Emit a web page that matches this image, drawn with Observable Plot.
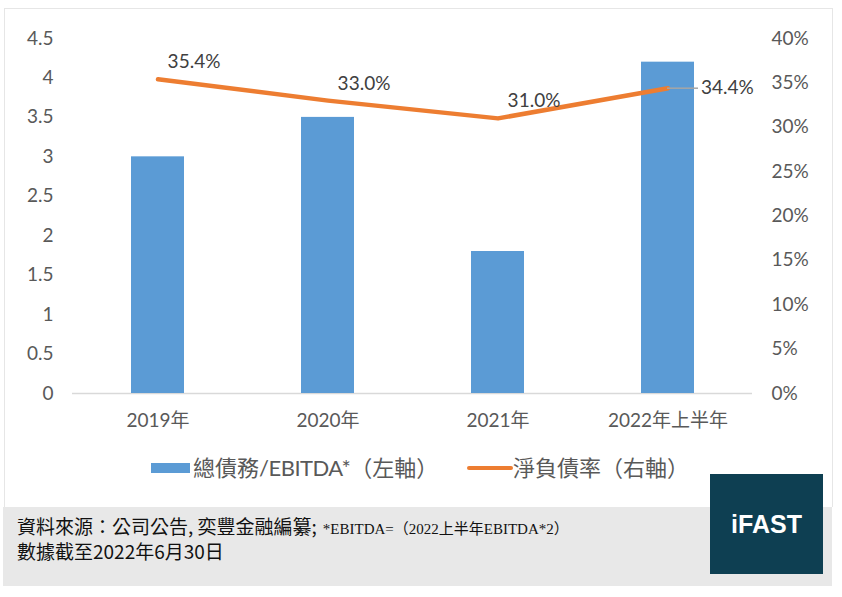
<!DOCTYPE html>
<html>
<head>
<meta charset="utf-8">
<script src="https://cdn.jsdelivr.net/npm/d3@7"></script>
<script src="https://cdn.jsdelivr.net/npm/@observablehq/plot@0.6"></script>
<style>
  html, body { margin: 0; padding: 0; background: #fff; }
  #root { position: relative; width: 842px; height: 597px; overflow: hidden; font-family: Lato, "Noto Sans CJK TC", sans-serif; }
  .panel { position: absolute; left: 4px; top: 8px; width: 827px; height: 498px; border: 1px solid #e6e6e6; border-bottom: none; background: #fff; }
  #chart { position: absolute; left: 0; top: 0; }
  .legend { position: absolute; top: 454px; font-size: 22px; color: #595959; line-height: 28px; white-space: nowrap; }
  .lat { letter-spacing: -0.5px; }
  .sw-bar { position: absolute; left: 151px; top: 463px; width: 39px; height: 10px; background: #5B9BD5; }
  .sw-line { position: absolute; left: 467px; top: 466px; width: 46px; height: 4px; background: #ED7D31; border-radius: 2px; }
  .footer { position: absolute; left: 3px; top: 507px; width: 829px; height: 79px; background: #e8e8e8; }
  .src { position: absolute; left: 17px; top: 515px; white-space: nowrap; font-family: "Noto Sans CJK TC", sans-serif; font-size: 19px; color: #111; line-height: 22px; }
  .small { font-family: "Liberation Serif", "Noto Sans CJK TC", serif; font-size: 15px; margin-left: 6px; }
  .logo { position: absolute; left: 710px; top: 474px; width: 113px; height: 100px; background: #0e3f52; color: #fff; font-family: "Liberation Sans", Arial, sans-serif; font-weight: bold; font-size: 25px; display: flex; align-items: center; justify-content: center; }
</style>
</head>
<body>
<div id="root">
  <div class="panel"></div>
  <div id="chart"></div>
  <div class="sw-bar"></div>
  <div class="legend" style="left:193px;">總債務<span class="lat">/EBITDA*</span>（左軸）</div>
  <div class="sw-line"></div>
  <div class="legend" style="left:513px;">淨負債率（右軸）</div>
  <div class="footer"></div>
  <div class="src">資料來源：公司公告, 奕豐金融編纂;<span class="small">*EBITDA=（2022上半年EBITDA*2）</span><br>數據截至2022年6月30日</div>
  <div class="logo">iFAST</div>
</div>
<script>
const years = ["2019年", "2020年", "2021年", "2022年上半年"];
const debtToEbitda = [3.0, 3.5, 1.8, 4.2];
const netGearing = [35.4, 33.0, 31.0, 34.4];
const leftTicks = [0, 0.5, 1, 1.5, 2, 2.5, 3, 3.5, 4, 4.5];
const rightTicks = [0, 5, 10, 15, 20, 25, 30, 35, 40];
const leftMax = 4.5;
const rightMax = 40;
const k = leftMax / rightMax;

const rows = years.map((year, i) => ({
  year,
  debt: debtToEbitda[i],
  gy: netGearing[i] * k,
  label: netGearing[i].toFixed(1) + "%"
}));

const chart = Plot.plot({
  width: 842,
  height: 445,
  marginTop: 38,
  marginBottom: 52,
  marginLeft: 72,
  marginRight: 90,
  style: {fontFamily: 'Lato, "Noto Sans CJK TC", sans-serif', fontSize: "19px", color: "#595959", background: "transparent", overflow: "visible"},
  x: {type: "band", domain: years, paddingInner: 0.69, paddingOuter: 0.345, label: null},
  y: {domain: [0, leftMax], label: null},
  marks: [
    Plot.axisX({tickSize: 0, tickPadding: 20, label: null, fontSize: 19}),
    Plot.axisY(leftTicks, {tickSize: 0, tickPadding: 19, tickFormat: d => String(d), label: null, fontSize: 19}),
    Plot.axisY(rightTicks.map(p => p * k), {anchor: "right", tickSize: 0, tickPadding: 19, tickFormat: d => Math.round(d / k) + "%", label: null, fontSize: 19}),
    Plot.ruleY([0], {stroke: "#d9d9d9", strokeWidth: 1.5}),
    Plot.barY(rows, {x: "year", y: "debt", fill: "#5B9BD5"}),
    Plot.lineY(rows, {x: "year", y: "gy", stroke: "#ED7D31", strokeWidth: 4.5, strokeLinejoin: "round", strokeLinecap: "round"}),
    Plot.tickY(rows.slice(3), {x: "year", y: "gy", stroke: "#a6a6a6", strokeWidth: 1.5, dx: 26, insetRight: 22}),
    Plot.text(rows.slice(0, 3), {x: "year", y: "gy", text: "label", dx: 36, dy: -17, fill: "#404040", fontSize: 19}),
    Plot.text(rows.slice(3), {x: "year", y: "gy", text: "label", dx: 33, textAnchor: "start", fill: "#404040", fontSize: 19})
  ]
});
document.getElementById("chart").appendChild(chart);
</script>
</body>
</html>
